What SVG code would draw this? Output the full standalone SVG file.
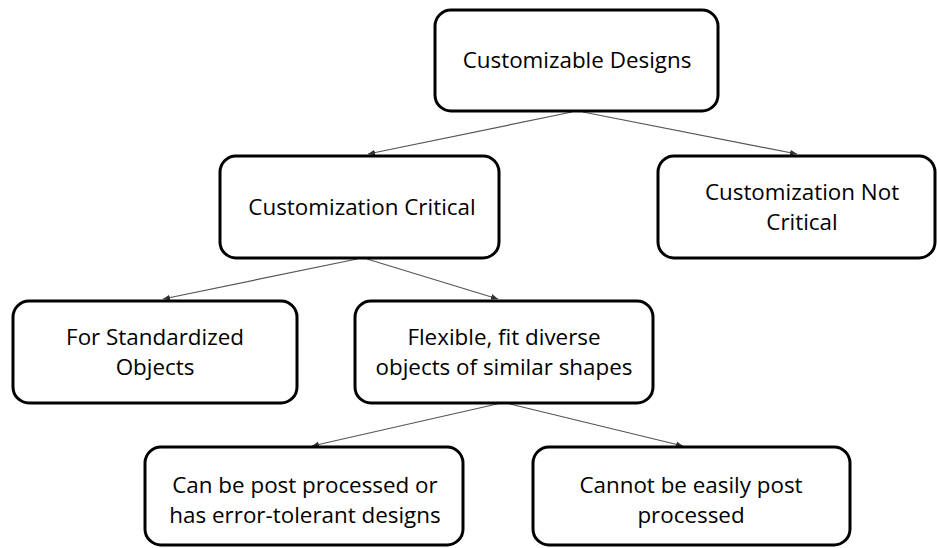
<svg xmlns="http://www.w3.org/2000/svg" width="937" height="548" viewBox="0 0 937 548">
<defs>
<marker id="ah" markerWidth="8" markerHeight="8" refX="7" refY="4" orient="auto" markerUnits="userSpaceOnUse">
<path d="M0,1 L7,4 L0,7 Z" fill="#333"/>
</marker>
<style>
.box{fill:#fff;stroke:#000;stroke-width:3}
.t{font-family:"Open Sans","Liberation Sans",Arial,sans-serif;font-size:22.4px;fill:#000;text-anchor:middle}
.c{stroke:#555;stroke-width:1.2;fill:none}
</style>
</defs>
<rect width="937" height="548" fill="#fff"/>
<g id="connectors">
<line class="c" x1="572" y1="112" x2="368" y2="154" marker-end="url(#ah)"/>
<line class="c" x1="583" y1="112" x2="797" y2="154" marker-end="url(#ah)"/>
<line class="c" x1="357" y1="259" x2="163" y2="299" marker-end="url(#ah)"/>
<line class="c" x1="367" y1="259" x2="498" y2="299" marker-end="url(#ah)"/>
<line class="c" x1="497" y1="404" x2="312" y2="446" marker-end="url(#ah)"/>
<line class="c" x1="510" y1="404" x2="683" y2="446" marker-end="url(#ah)"/>
</g>
<g id="n1"><rect class="box" x="435" y="10" width="283" height="101" rx="16"/><text class="t" x="577" y="68">Customizable Designs</text></g>
<g id="n2"><rect class="box" x="220" y="156" width="279" height="102" rx="16"/><text class="t" x="362" y="215">Customization Critical</text></g>
<g id="n3"><rect class="box" x="658" y="156" width="277" height="102" rx="16"/><text class="t" x="802" y="200">Customization Not</text><text class="t" x="802" y="230">Critical</text></g>
<g id="n4"><rect class="box" x="13" y="301" width="284" height="102" rx="16"/><text class="t" x="155" y="345">For Standardized</text><text class="t" x="155" y="375">Objects</text></g>
<g id="n5"><rect class="box" x="355" y="301" width="298" height="102" rx="16"/><text class="t" x="504" y="345">Flexible, fit diverse</text><text class="t" x="504" y="375">objects of similar shapes</text></g>
<g id="n6"><rect class="box" x="145" y="447" width="318" height="98" rx="16"/><text class="t" x="305" y="493">Can be post processed or</text><text class="t" x="305" y="523">has error-tolerant designs</text></g>
<g id="n7"><rect class="box" x="533" y="447" width="317" height="98" rx="16"/><text class="t" x="691" y="493">Cannot be easily post</text><text class="t" x="691" y="523">processed</text></g>
</svg>
